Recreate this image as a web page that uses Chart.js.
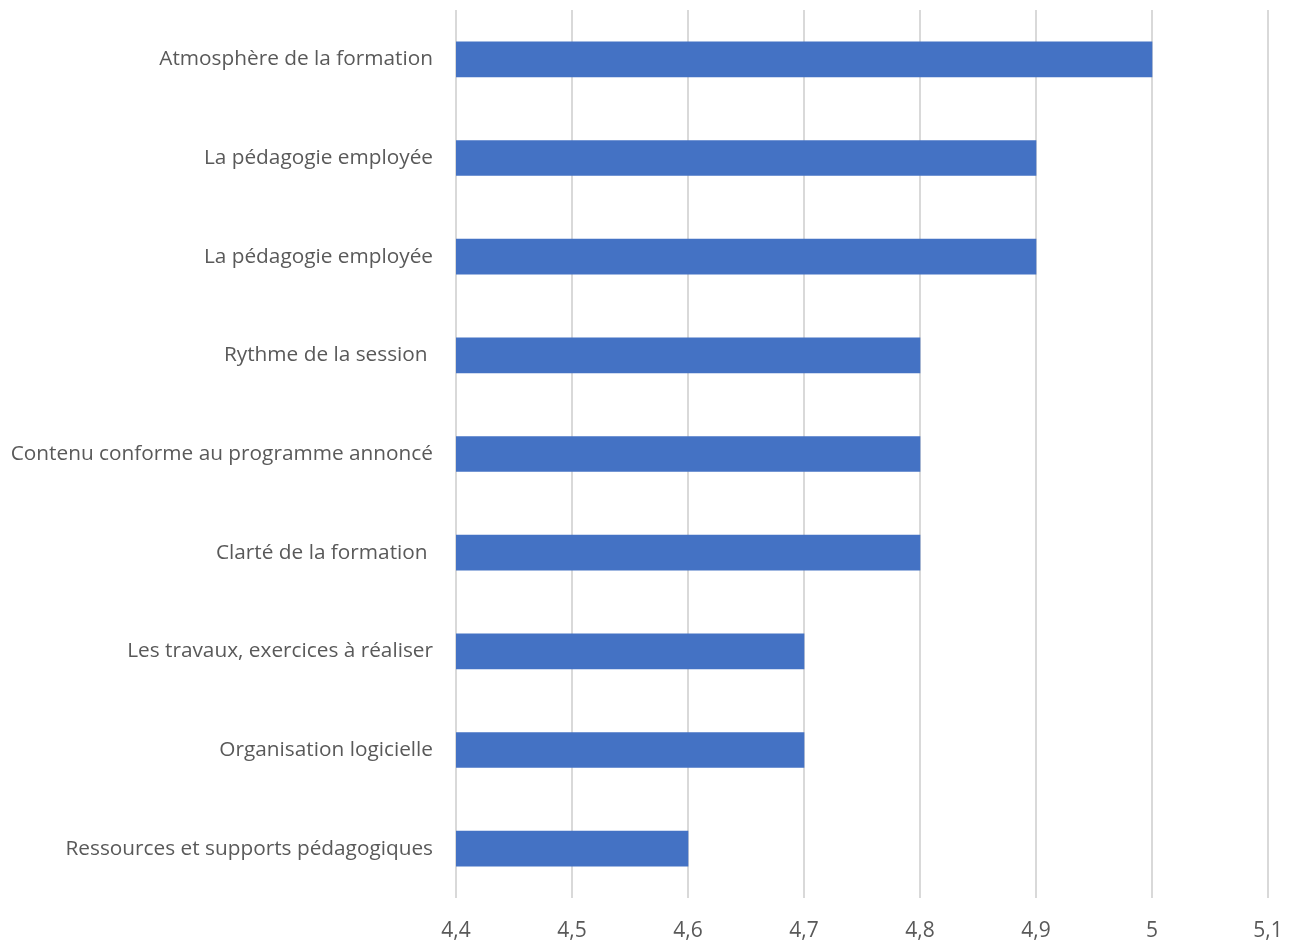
<!DOCTYPE html>
<html>
<head>
<meta charset="utf-8">
<script src="https://cdn.jsdelivr.net/npm/chart.js@4/dist/chart.umd.min.js"></script>
<style>
html,body{margin:0;padding:0;background:#fff;}
#wrap{width:1295px;height:943px;}
</style>
</head>
<body>
<div id="wrap"><canvas id="c" width="1295" height="943"></canvas></div>
<script>
const categories = [
  "Atmosphère de la formation",
  "La pédagogie employée",
  "La pédagogie employée",
  "Rythme de la session ",
  "Contenu conforme au programme annoncé",
  "Clarté de la formation ",
  "Les travaux, exercices à réaliser",
  "Organisation logicielle",
  "Ressources et supports pédagogiques"
];
const scores = [5, 4.9, 4.9, 4.8, 4.8, 4.8, 4.7, 4.7, 4.6];
const tickLabels = ["4,4", "4,5", "4,6", "4,7", "4,8", "4,9", "5", "5,1"];
const axisMin = 4.4, axisMax = 5.1, axisStep = 0.1;

const FONT = "'Open Sans', sans-serif";
new Chart(document.getElementById('c'), {
  type: 'bar',
  data: {
    labels: categories,
    datasets: [{
      data: scores,
      backgroundColor: '#4472C4',
      borderWidth: 0,
      barThickness: 35
    }]
  },
  options: {
    indexAxis: 'y',
    responsive: false,
    animation: false,
    devicePixelRatio: 1,
    layout: { padding: { top: 10, right: 27, left: 0, bottom: 0 } },
    plugins: { legend: { display: false }, tooltip: { enabled: false } },
    scales: {
      x: {
        min: axisMin, max: axisMax,
        border: { display: false },
        grid: { color: '#d9d9d9', lineWidth: 2, drawTicks: false },
        ticks: {
          stepSize: axisStep,
          padding: 20,
          color: '#595959',
          font: { family: FONT, size: 21 },
          callback: (v, i) => tickLabels[i]
        },
        afterFit: s => { s.height = 45; s.paddingLeft = 0; s.paddingRight = 0; }
      },
      y: {
        border: { display: false },
        grid: { display: false, drawTicks: false },
        ticks: {
          padding: 23,
          color: '#595959',
          font: { family: FONT, size: 20.8 }
        },
        afterFit: s => { s.width = 456; s.paddingTop = 0; s.paddingBottom = 0; }
      }
    }
  }
});
</script>
</body>
</html>
